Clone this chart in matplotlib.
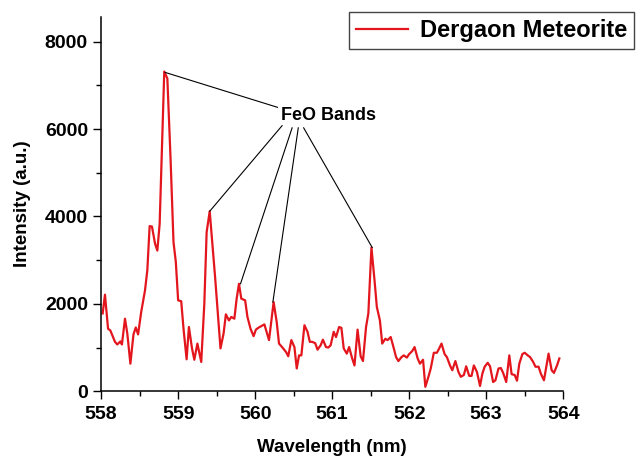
import matplotlib
matplotlib.use("Agg")
import matplotlib.pyplot as plt
from matplotlib.ticker import MultipleLocator

plt.rcParams["font.family"] = ["Liberation Sans", "DejaVu Sans"]
plt.rcParams["font.weight"] = "bold"

# Spectrum (wavelength in nm, intensity in a.u.)
wavelength = [
    558.02, 558.05, 558.09, 558.12, 558.18, 558.21, 558.25, 558.27, 558.31, 558.34,
    558.38, 558.42, 558.45, 558.48, 558.52, 558.57, 558.60, 558.63, 558.66, 558.70,
    558.73, 558.76, 558.82, 558.86, 558.90, 558.94, 558.97, 559.00, 559.04, 559.07,
    559.11, 559.14, 559.18, 559.21, 559.25, 559.30, 559.34, 559.37, 559.41, 559.45,
    559.48, 559.52, 559.55, 559.59, 559.62, 559.66, 559.69, 559.73, 559.76, 559.79,
    559.82, 559.87, 559.90, 559.94, 559.98, 560.01, 560.04, 560.08, 560.12, 560.18,
    560.24, 560.28, 560.31, 560.35, 560.40, 560.43, 560.47, 560.51, 560.54, 560.57,
    560.60, 560.64, 560.68, 560.71, 560.74, 560.78, 560.81, 560.85, 560.88, 560.92,
    560.95, 560.98, 561.02, 561.05, 561.09, 561.12, 561.15, 561.19, 561.22, 561.26,
    561.29, 561.33, 561.37, 561.40, 561.44, 561.47, 561.51, 561.55, 561.58, 561.62,
    561.65, 561.69, 561.72, 561.76, 561.79, 561.83, 561.86, 561.90, 561.93, 561.97,
    562.00, 562.04, 562.07, 562.11, 562.14, 562.18, 562.21, 562.25, 562.28, 562.32,
    562.36, 562.39, 562.42, 562.46, 562.49, 562.53, 562.56, 562.60, 562.64, 562.67,
    562.71, 562.74, 562.78, 562.81, 562.84, 562.88, 562.92, 562.95, 562.98, 563.02,
    563.05, 563.09, 563.12, 563.16, 563.19, 563.22, 563.26, 563.30, 563.33, 563.37,
    563.40, 563.43, 563.47, 563.50, 563.54, 563.57, 563.61, 563.64, 563.68, 563.71,
    563.75, 563.78, 563.81, 563.85, 563.88, 563.92, 563.95,
]
intensity = [
    1780, 2210, 1430, 1390, 1130, 1070, 1140, 1070, 1660, 1320,
    630, 1300, 1460, 1300, 1810, 2310, 2770, 3780, 3770, 3380,
    3220, 3830, 7320, 7160, 5400, 3410, 2960, 2080, 2060, 1430,
    730, 1470, 980, 720, 1090, 670, 2000, 3640, 4120, 3260,
    2610, 1660, 980, 1320, 1760, 1620, 1700, 1660, 2120, 2460,
    2120, 2080, 1700, 1430, 1260, 1410, 1450, 1490, 1530, 1170,
    2040, 1580, 1090, 1010, 900, 800, 1170, 1010, 520, 820,
    820, 1510, 1360, 1130, 1130, 1100, 950, 1050, 1180, 1010,
    1000, 1050, 1360, 1240, 1470, 1450, 980, 860, 1010, 750,
    590, 1410, 800, 690, 1470, 1780, 3290, 2540, 1930, 1620,
    1090, 1200, 1170, 1240, 1050, 780, 690, 780, 820, 770,
    850, 920, 1010, 750, 630, 720, 100, 330, 520, 880,
    880, 980, 1090, 850, 780, 590, 480, 690, 440, 330,
    370, 570, 350, 350, 590, 440, 120, 400, 560, 650,
    570, 210, 250, 520, 530, 420, 210, 820, 390, 370,
    240, 630, 850, 880, 820, 780, 670, 560, 560, 400,
    250, 560, 860, 480, 420, 590, 750,
]

# FeO band peaks and where their pointer lines meet near the label
peak_x = [558.83, 559.41, 559.81, 560.23, 561.52]
peak_y = [7300, 4120, 2460, 2040, 3290]
end_x = [560.29, 560.35, 560.48, 560.56, 560.63]
end_y = [6500, 6080, 6030, 6030, 6030]

fig = plt.figure(figsize=(6.4, 4.57), dpi=100)
ax = fig.add_axes([0.158, 0.144, 0.722, 0.819])

ax.plot(wavelength, intensity, color="#e3161d", lw=1.6, label="Dergaon Meteorite")

for px, py, ex, ey in zip(peak_x, peak_y, end_x, end_y):
    ax.plot([px, ex], [py, ey], color="black", lw=0.8)
ax.text(560.95, 6310, "FeO Bands", ha="center", va="center", fontsize=13, fontweight="bold")

ax.set_xlim(558, 564)
ax.set_ylim(0, 8570)
ax.xaxis.set_major_locator(MultipleLocator(1))
ax.xaxis.set_minor_locator(MultipleLocator(0.5))
ax.yaxis.set_major_locator(MultipleLocator(2000))
ax.yaxis.set_minor_locator(MultipleLocator(1000))
ax.tick_params(which="major", direction="out", length=6, width=1, labelsize=14)
ax.tick_params(which="minor", direction="out", length=3.5, width=1)
ax.tick_params(axis="x", pad=5)
for lab in ax.get_xticklabels() + ax.get_yticklabels():
    lab.set_fontweight("bold")

ax.spines["top"].set_visible(False)
ax.spines["right"].set_visible(False)
ax.spines["left"].set_linewidth(1.1)
ax.spines["bottom"].set_linewidth(1.1)

ax.set_xlabel("Wavelength (nm)", fontsize=13.5, fontweight="bold", labelpad=11)
ax.set_ylabel("Intensity (a.u.)", fontsize=13.5, fontweight="bold", labelpad=10)

leg = fig.legend(loc="upper left", bbox_to_anchor=(349 / 640, 1 - 12 / 457),
                 borderaxespad=0, fancybox=False, framealpha=1, edgecolor="#444444",
                 prop={"size": 17, "weight": "bold"}, handlelength=2.2,
                 borderpad=0.3, handletextpad=0.5)
leg.get_frame().set_linewidth(1.0)

fig.savefig("out.png", dpi=100)
